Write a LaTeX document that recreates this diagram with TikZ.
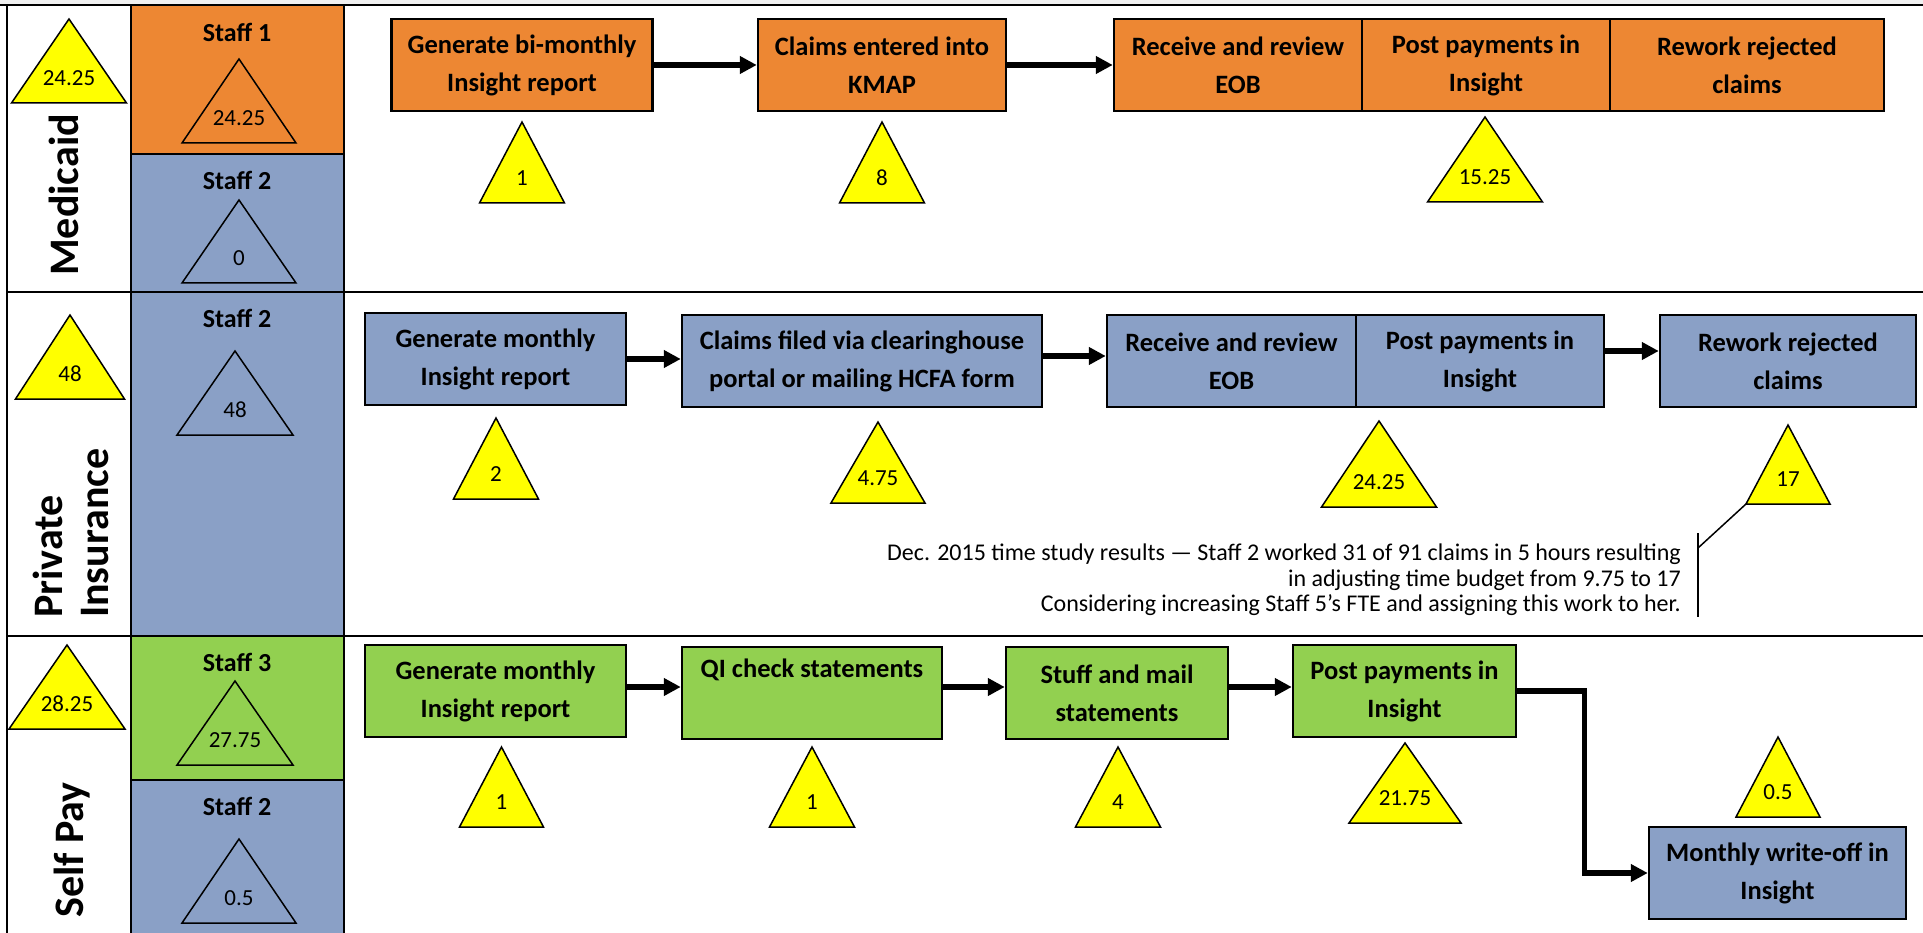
\documentclass[tikz,border=0pt]{standalone}
\usepackage{fontspec}
\setmainfont{Carlito}
\usetikzlibrary{arrows.meta}
\definecolor{orng}{RGB}{237,135,51}
\definecolor{blu}{RGB}{138,160,198}
\definecolor{grn}{RGB}{146,208,80}
\definecolor{ylw}{RGB}{255,255,0}
\definecolor{topgray}{RGB}{240,240,240}
\tikzset{
  tableline/.style={line width=2pt},
  pbox/.style={draw, line width=2.5pt, font=\fontsize{26.5}{38}\selectfont\bfseries, align=center, inner sep=0pt, minimum height=92pt, minimum width=#1},
  arr/.style={line width=5.3pt, line join=miter, -{Triangle[length=17pt,width=17pt]}},
  trishape/.style={draw, line width=1.5pt, line join=miter},
  trinum/.style={font=\fontsize{23}{26}\selectfont, inner sep=0pt},
  staffname/.style={font=\fontsize{26}{30}\selectfont\bfseries, inner sep=0pt},
  lane/.style={font=\fontsize{42}{49}\selectfont\bfseries, rotate=90, inner sep=0pt},
  note/.style={font=\fontsize{24}{25.5}\selectfont, align=right, inner sep=0pt},
  calloutline/.style={line width=1.5pt},
}
\newcommand{\trimark}[7]{%
  \coordinate (#1-apex) at (#2,#3);
  \coordinate (#1-bl) at ({#2-#5},#4);
  \coordinate (#1-br) at ({#2+#5},#4);
  \draw[trishape, fill=#6] (#1-bl) -- (#1-apex) -- (#1-br) -- cycle;
  \node[trinum] (#1) at (#2,{#4-25}) {#7};
}
\begin{document}
\begin{tikzpicture}[x=1pt, y=-1pt]
\useasboundingbox (0,0) rectangle (1923,933);
% background of column 2
\fill[topgray] (0,0) rectangle (1923,4.5);
\fill[orng] (131,5) rectangle (344,154);
\fill[blu] (131,154) rectangle (344,292);
\fill[blu] (131,292) rectangle (344,636);
\fill[grn] (131,636) rectangle (344,780);
\fill[blu] (131,780) rectangle (344,933);
% table lines
\draw[tableline] (0,5) -- (1923,5);
\draw[tableline] (7,292) -- (1923,292);
\draw[tableline] (7,636) -- (1923,636);
\draw[tableline] (7,5) -- (7,933);
\draw[tableline] (131,5) -- (131,933);
\draw[tableline] (344,5) -- (344,933);
\draw[tableline] (131,154) -- (344,154);
\draw[tableline] (131,780) -- (344,780);

% lane labels
\node[lane, anchor=base] (medicaid) at (78,195) {Medicaid};
\node[lane, anchor=base west] (private) at (62,618) {Private};
\node[lane, anchor=base west] (insurance) at (108,618) {Insurance};
\node[lane, anchor=base] (selfpay) at (83,850) {Self Pay};

% side totals
\trimark{tmed}{69}{19}{103}{57.5}{ylw}{24.25}
\trimark{tpriv}{70}{315}{399}{54.5}{ylw}{48}
\trimark{tself}{67}{645}{729}{58}{ylw}{28.25}

% staff labels
\node[staffname] (staffa) at (237,32) {Staff 1};
\trimark{tstaffa}{239}{59}{143}{57}{orng}{24.25}
\node[staffname] (staffb) at (237,180) {Staff 2};
\trimark{tstaffb}{239}{200}{283}{57}{blu}{0}
\node[staffname] (staffc) at (237,318) {Staff 2};
\trimark{tstaffc}{235}{351}{435}{58}{blu}{48}
\node[staffname] (staffd) at (237,662) {Staff 3};
\trimark{tstaffd}{235}{681}{765}{58}{grn}{27.75}
\node[staffname] (staffe) at (237,806) {Staff 2};
\trimark{tstaffe}{239}{839}{923}{57}{blu}{0.5}

% Medicaid process
\node[pbox=261pt, fill=orng] (m1) at (522,65) {Generate bi-monthly\\Insight report};
\node[pbox=248pt, fill=orng] (m2) at (882,65) {Claims entered into\\KMAP};
\node[pbox=248pt, fill=orng] (m3a) at (1238,65) {Receive and review\\EOB};
\node[pbox=248pt, fill=orng] (m3b) at (1486,65) {Post payments in\\Insight};
\node[pbox=274pt, fill=orng] (m3c) at (1747,65) {Rework rejected\\claims};
\draw[arr] (m1.east) -- (m2.west);
\draw[arr] (m2.east) -- (m3a.west);
\trimark{tm1}{522}{122}{203}{42.5}{ylw}{1}
\trimark{tm2}{882}{122}{203}{42.5}{ylw}{8}
\trimark{tm3}{1485}{117}{202}{57.5}{ylw}{15.25}

% Private insurance process
\node[pbox=261pt, fill=blu] (p1) at (495.5,359) {Generate monthly\\Insight report};
\node[pbox=360pt, fill=blu] (p2) at (862,361) {Claims filed via clearinghouse\\portal or mailing HCFA form};
\node[pbox=249pt, fill=blu] (p3a) at (1231.5,361) {Receive and review\\EOB};
\node[pbox=248pt, fill=blu] (p3b) at (1480,361) {Post payments in\\Insight};
\node[pbox=256pt, fill=blu] (p4) at (1788,361) {Rework rejected\\claims};
\draw[arr] (p1.east) -- ([yshift=2pt]p2.west);
\draw[arr] ([yshift=5pt]p2.east) -- ([yshift=5pt]p3a.west);
\draw[arr] ([yshift=10pt]p3b.east) -- ([yshift=10pt]p4.west);
\trimark{tp1}{496}{418}{499}{42.5}{ylw}{2}
\trimark{tp2}{878}{422}{503}{47}{ylw}{4.75}
\trimark{tp3}{1379}{421}{507}{57.5}{ylw}{24.25}
\trimark{tp4}{1788}{425}{504}{42}{ylw}{17}

% callout
\node[note, anchor=east] (note) at (1681,580) {Dec. 2015 time study results — Staff 2 worked 31 of 91 claims in 5 hours resulting\\in adjusting time budget from 9.75 to 17\\Considering increasing Staff 5’s FTE and assigning this work to her.};
\coordinate (cltop) at (1698,533);
\coordinate (clbot) at (1698,617);
\coordinate (clknee) at (1698,548);
\draw[calloutline] (cltop) -- (clbot);
\draw[calloutline] (clknee) -- (tp4-bl);

% Self pay process
\node[pbox=261pt, fill=grn] (s1) at (495.5,691) {Generate monthly\\Insight report};
\node[pbox=260pt, fill=grn] (s2) at (812,693) {QI check statements\\\strut};
\node[pbox=222pt, fill=grn] (s3) at (1117,693) {Stuff and mail\\statements};
\node[pbox=223pt, fill=grn] (s4) at (1404.5,691) {Post payments in\\Insight};
\node[pbox=257pt, fill=blu] (s5) at (1777.5,873) {Monthly write-off in\\Insight};
\draw[arr] ([yshift=4pt]s1.east) -- ([yshift=6pt]s2.west);
\draw[arr] ([yshift=6pt]s2.east) -- ([yshift=6pt]s3.west);
\draw[arr] ([yshift=6pt]s3.east) -- ([yshift=4pt]s4.west);
\draw[arr] (s4.east) -- ++(67,0) |- (s5.west);
\trimark{ts1}{501.5}{747}{827}{42}{ylw}{1}
\trimark{ts2}{812}{747}{827}{42.5}{ylw}{1}
\trimark{ts3}{1118}{747}{827}{42.5}{ylw}{4}
\trimark{ts4}{1405}{743}{823}{56}{ylw}{21.75}
\trimark{ts5}{1778}{737}{817}{42}{ylw}{0.5}
\end{tikzpicture}
\end{document}
